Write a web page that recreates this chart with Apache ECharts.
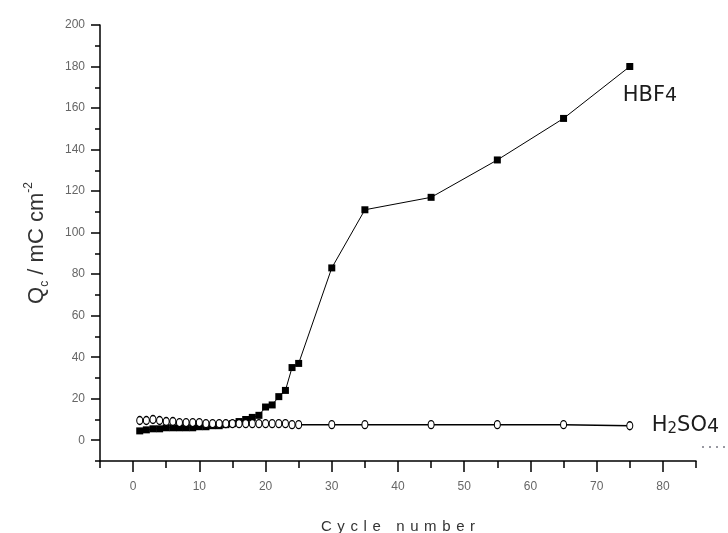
<!DOCTYPE html>
<html>
<head>
<meta charset="utf-8">
<script src="https://cdn.jsdelivr.net/npm/echarts@6/dist/echarts.min.js"></script>
<style>
  html, body { margin: 0; padding: 0; background: #fff; }
  #chart { width: 728px; height: 533px; }
</style>
</head>
<body>
<div id="chart"></div>
<script>
// cycle numbers where both electrolytes were measured
const cycles = [1, 2, 3, 4, 5, 6, 7, 8, 9, 10, 11, 12, 13, 14, 15, 16, 17, 18, 19, 20,
  21, 22, 23, 24, 25, 30, 35, 45, 55, 65, 75];
// Qc in mC cm-2
const hbf4 = [4.5, 5, 5.5, 5.5, 6, 6, 6, 6, 6, 6.5, 6.5, 7, 7, 7.5, 8, 9, 10, 11, 12, 16,
  17, 21, 24, 35, 37, 83, 111, 117, 135, 155, 180];
const h2so4 = [9.5, 9.5, 10, 9.5, 9, 9, 8.5, 8.5, 8.5, 8.5, 8, 8, 8, 8, 8, 8, 8, 8, 8, 8,
  8, 8, 8, 7.5, 7.5, 7.5, 7.5, 7.5, 7.5, 7.5, 7];

const xMajor = [0, 10, 20, 30, 40, 50, 60, 70, 80];
const xMinor = [-5, 5, 15, 25, 35, 45, 55, 65, 75, 85];
const yMajor = [0, 20, 40, 60, 80, 100, 120, 140, 160, 180, 200];
const yMinor = [-10, 10, 30, 50, 70, 90, 110, 130, 150, 170, 190];

const chart = echarts.init(document.getElementById('chart'), null, { renderer: 'canvas' });

const tickFont = { color: '#666', fontFamily: 'Liberation Sans, Arial', fontSize: 12 };
const black = '#000';

// spaced-out axis title, one token per letter
const xTitle = 'Cycle number'.split('').map(c => c === ' ' ? '{sp| }' : '{c|' + c + '}').join('');

const labelRich = {
  m: { fontFamily: 'DejaVu Sans', fontSize: 21, color: '#1c1c1c' },
  s2: { fontFamily: 'DejaVu Sans', fontSize: 15, color: '#1c1c1c', verticalAlign: 'bottom' },
  s4: { fontFamily: 'DejaVu Sans', fontSize: 19, color: '#1c1c1c', verticalAlign: 'bottom' }
};

const option = {
  animation: false,
  backgroundColor: '#fff',
  grid: { left: 100, right: 32, top: 25, bottom: 72, containLabel: false, outerBoundsMode: 'none' },
  xAxis: [{
    type: 'value', min: -5, max: 85, position: 'bottom',
    axisLine: { show: true, onZero: false, lineStyle: { color: black, width: 1.5 } },
    axisTick: { show: true, customValues: xMajor, length: 11, lineStyle: { color: black, width: 1.5 } },
    axisLabel: Object.assign({ customValues: xMajor, margin: 20 }, tickFont),
    splitLine: { show: false },
    name: xTitle,
    nameLocation: 'middle',
    nameGap: 58,
    nameTextStyle: {
      rich: {
        c: { fontFamily: 'Liberation Sans, Arial', fontSize: 15, color: '#333', padding: [0, 2.8] },
        sp: { fontFamily: 'Liberation Sans, Arial', fontSize: 15, color: '#333', padding: [0, 2.8] }
      }
    }
  }, {
    type: 'value', min: -5, max: 85, position: 'bottom',
    axisLine: { show: false, onZero: false },
    axisTick: { show: true, customValues: xMinor, length: 7, lineStyle: { color: black, width: 1.5 } },
    axisLabel: { show: false },
    splitLine: { show: false }
  }],
  yAxis: [{
    type: 'value', min: -10, max: 200, position: 'left',
    axisLine: { show: true, onZero: false, lineStyle: { color: black, width: 1.5 } },
    axisTick: { show: true, customValues: yMajor, length: 9, lineStyle: { color: black, width: 1.5 } },
    axisLabel: Object.assign({ customValues: yMajor, margin: 15 }, tickFont),
    splitLine: { show: false },
    name: '{q|Q}{sub|c}{q| / mC cm}{sup|-2}',
    nameLocation: 'middle',
    nameRotate: 90,
    nameGap: 49,
    nameTextStyle: {
      rich: {
        q: { fontFamily: 'Liberation Sans, Arial', fontSize: 22, color: '#333', lineHeight: 28 },
        sub: { fontFamily: 'Liberation Sans, Arial', fontSize: 12, color: '#333', verticalAlign: 'bottom', lineHeight: 28 },
        sup: { fontFamily: 'Liberation Sans, Arial', fontSize: 12, color: '#333', verticalAlign: 'top', lineHeight: 28 }
      }
    }
  }, {
    type: 'value', min: -10, max: 200, position: 'left',
    axisLine: { show: false, onZero: false },
    axisTick: { show: true, customValues: yMinor, length: 5, lineStyle: { color: black, width: 1.5 } },
    axisLabel: { show: false },
    splitLine: { show: false }
  }],
  series: [{
    name: 'HBF4',
    type: 'line',
    xAxisIndex: 0, yAxisIndex: 0,
    data: cycles.map((c, i) => [c, hbf4[i]]),
    symbol: 'rect',
    symbolSize: 7,
    itemStyle: { color: black },
    lineStyle: { color: black, width: 1 },
    emphasis: { disabled: true },
    endLabel: {
      show: true,
      formatter: '{m|HBF}{s4|4}',
      offset: [-15, 29],
      rich: labelRich
    }
  }, {
    name: 'H2SO4',
    type: 'line',
    xAxisIndex: 0, yAxisIndex: 0,
    data: cycles.map((c, i) => [c, h2so4[i]]),
    symbol: 'circle',
    symbolSize: [6, 8],
    itemStyle: { color: '#fff', borderColor: black, borderWidth: 1.2 },
    lineStyle: { color: black, width: 1.5 },
    emphasis: { disabled: true },
    endLabel: {
      show: true,
      formatter: '{m|H}{s2|2}{m|SO}{s4|4}',
      offset: [14, 0],
      rich: labelRich
    }
  }],
  graphic: [{
    type: 'line',
    shape: { x1: 702, y1: 447, x2: 728, y2: 447 },
    style: { stroke: '#334', lineWidth: 1, lineDash: [2, 5] }
  }]
};

chart.setOption(option);
</script>
</body>
</html>
